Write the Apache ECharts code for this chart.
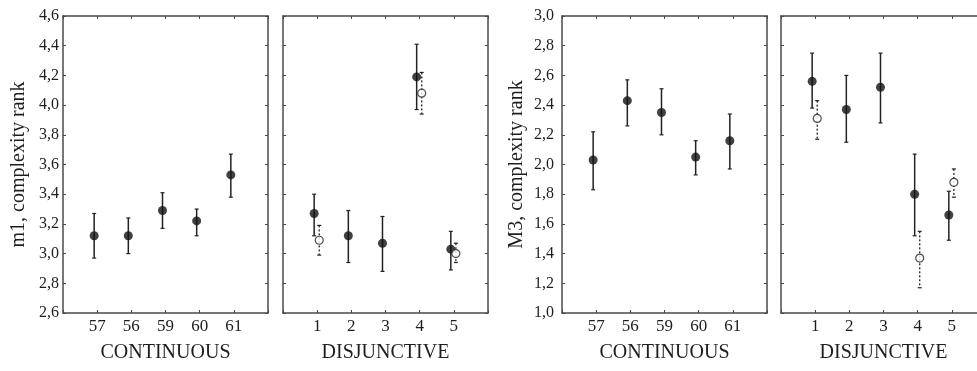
<!DOCTYPE html>
<html><head><meta charset="utf-8">
<script src="https://cdn.jsdelivr.net/npm/echarts@6/dist/echarts.min.js"></script>
<style>html,body{margin:0;padding:0;background:#fff}#c{width:977px;height:371px}</style>
</head><body><div id="c"></div>
<script>
// ---- data ----
const contCats = ['57', '56', '59', '60', '61'];
const disjCats = ['1', '2', '3', '4', '5'];
const m1YTicks = [2.6, 4.6];      // axis min / max
const M3YTicks = [1.0, 3.0];

const m1ContMean = [3.12, 3.12, 3.29, 3.22, 3.53];
const m1ContLow  = [2.97, 3.00, 3.17, 3.12, 3.38];
const m1ContHigh = [3.27, 3.24, 3.41, 3.30, 3.67];

const m1DisjMean = [3.27, 3.12, 3.07, 4.19, 3.03];
const m1DisjLow  = [3.12, 2.94, 2.88, 3.97, 2.89];
const m1DisjHigh = [3.40, 3.29, 3.25, 4.41, 3.15];

const m1DisjOpenMean = [3.09, null, null, 4.08, 3.00];
const m1DisjOpenLow  = [2.99, null, null, 3.94, 2.94];
const m1DisjOpenHigh = [3.19, null, null, 4.22, 3.07];

const M3ContMean = [2.03, 2.43, 2.35, 2.05, 2.16];
const M3ContLow  = [1.83, 2.26, 2.20, 1.93, 1.97];
const M3ContHigh = [2.22, 2.57, 2.51, 2.16, 2.34];

const M3DisjMean = [2.56, 2.37, 2.52, 1.80, 1.66];
const M3DisjLow  = [2.38, 2.15, 2.28, 1.52, 1.49];
const M3DisjHigh = [2.75, 2.60, 2.75, 2.07, 1.82];

const M3DisjOpenMean = [2.31, null, null, 1.37, 1.88];
const M3DisjOpenLow  = [2.17, null, null, 1.17, 1.78];
const M3DisjOpenHigh = [2.43, null, null, 1.55, 1.97];

// ---- chart ----
const FONT = '"Liberation Serif", "DejaVu Serif", serif';
const TXT = '#1e1e1e';
const FRAME = '#4a4a4a';
const FILL_OFF = -0.088, OPEN_OFF = 0.06;

const chart = echarts.init(document.getElementById('c'), null, {renderer: 'canvas'});

const grids = [
  {left: 63, top: 16, width: 205, height: 297, outerBoundsMode: 'none', containLabel: false},
  {left: 283, top: 16, width: 205, height: 297, outerBoundsMode: 'none', containLabel: false},
  {left: 562, top: 16, width: 205, height: 297, outerBoundsMode: 'none', containLabel: false},
  {left: 781, top: 16, width: 205, height: 297, outerBoundsMode: 'none', containLabel: false}
];

const panels = [
  {cats: contCats, name: 'CONTINUOUS', yr: m1YTicks, yName: 'm1, complexity rank', yLabels: true, lblMargin: 4, nameGap: 34,
   mean: m1ContMean, lo: m1ContLow, hi: m1ContHigh},
  {cats: disjCats, name: 'DISJUNCTIVE', yr: m1YTicks, yLabels: false,
   mean: m1DisjMean, lo: m1DisjLow, hi: m1DisjHigh,
   omean: m1DisjOpenMean, olo: m1DisjOpenLow, ohi: m1DisjOpenHigh},
  {cats: contCats, name: 'CONTINUOUS', yr: M3YTicks, yName: 'M3, complexity rank', yLabels: true, lblMargin: 8, nameGap: 35,
   mean: M3ContMean, lo: M3ContLow, hi: M3ContHigh},
  {cats: disjCats, name: 'DISJUNCTIVE', yr: M3YTicks, yLabels: false,
   mean: M3DisjMean, lo: M3DisjLow, hi: M3DisjHigh,
   omean: M3DisjOpenMean, olo: M3DisjOpenLow, ohi: M3DisjOpenHigh}
];

const xAxes = [], yAxes = [], series = [];
const lineStyle = {color: FRAME, width: 1.5};
const tickStyle = {show: true, inside: true, length: 3, lineStyle: {color: FRAME, width: 1}};

function errRender(dashed) {
  return function (params, api) {
    const x = api.value(0), lo = api.value(1), hi = api.value(2);
    const a = api.coord([x, hi]), b = api.coord([x, lo]);
    const cw = 2;
    const st = {stroke: '#222', lineWidth: dashed ? 1.3 : 1.5, lineDash: dashed ? [2, 2] : null};
    const cst = {stroke: '#222', lineWidth: 1.2};
    return {type: 'group', children: [
      {type: 'line', shape: {x1: a[0], y1: a[1], x2: b[0], y2: b[1]}, style: st},
      {type: 'line', shape: {x1: a[0] - cw, y1: a[1], x2: a[0] + cw, y2: a[1]}, style: cst},
      {type: 'line', shape: {x1: b[0] - cw, y1: b[1], x2: b[0] + cw, y2: b[1]}, style: cst}
    ]};
  };
}

panels.forEach((p, i) => {
  const cats = p.cats;
  xAxes.push({
    gridIndex: i, type: 'value', position: 'bottom', min: 0, max: 6, interval: 1,
    axisLine: {show: true, lineStyle}, axisTick: tickStyle, splitLine: {show: false},
    axisLabel: {show: true, margin: 5, fontFamily: FONT, fontSize: 17, color: TXT,
      formatter: v => (v >= 1 && v <= cats.length) ? cats[v - 1] : ''},
    name: p.name, nameLocation: 'middle', nameGap: 30,
    nameTextStyle: {fontFamily: FONT, fontSize: 20, color: TXT}
  });
  xAxes.push({
    gridIndex: i, type: 'value', position: 'top', min: 0, max: 6, interval: 1,
    axisLine: {show: true, onZero: false, lineStyle}, axisTick: tickStyle, axisLabel: {show: false}, splitLine: {show: false}
  });
  yAxes.push({
    gridIndex: i, type: 'value', position: 'left', min: p.yr[0], max: p.yr[1], interval: 0.2,
    axisLine: {show: true, onZero: false, lineStyle}, axisTick: tickStyle, splitLine: {show: false},
    axisLabel: {show: p.yLabels, margin: p.lblMargin || 4, fontFamily: FONT, fontSize: 16, color: TXT,
      formatter: v => v.toFixed(1).replace('.', ',')},
    name: p.yName || '', nameLocation: 'middle', nameGap: p.nameGap || 30, nameRotate: 90,
    nameTextStyle: {fontFamily: FONT, fontSize: 20, color: TXT}
  });
  yAxes.push({
    gridIndex: i, type: 'value', position: 'right', min: p.yr[0], max: p.yr[1], interval: 0.2,
    axisLine: {show: true, onZero: false, lineStyle}, axisTick: tickStyle, axisLabel: {show: false}, splitLine: {show: false}
  });

  const xi = 2 * i, yi = 2 * i;
  const errData = [], ptData = [];
  p.mean.forEach((m, k) => {
    const x = k + 1 + FILL_OFF;
    errData.push([x, p.lo[k], p.hi[k]]);
    ptData.push([x, m]);
  });
  series.push({
    type: 'custom', xAxisIndex: xi, yAxisIndex: yi, z: 2, silent: true,
    renderItem: errRender(false), data: errData, encode: {x: 0, y: [1, 2]}
  });
  series.push({
    type: 'scatter', xAxisIndex: xi, yAxisIndex: yi, z: 5, silent: true,
    symbol: 'circle', symbolSize: 9, itemStyle: {color: '#111'}, data: ptData
  });
  if (p.omean) {
    const oErr = [], oPt = [];
    p.omean.forEach((m, k) => {
      if (m == null) return;
      const x = k + 1 + OPEN_OFF;
      oErr.push([x, p.olo[k], p.ohi[k]]);
      oPt.push([x, m]);
    });
    series.push({
      type: 'custom', xAxisIndex: xi, yAxisIndex: yi, z: 3, silent: true,
      renderItem: errRender(true), data: oErr, encode: {x: 0, y: [1, 2]}
    });
    series.push({
      type: 'scatter', xAxisIndex: xi, yAxisIndex: yi, z: 6, silent: true,
      symbol: 'circle', symbolSize: 8, itemStyle: {color: '#fff', borderColor: '#222', borderWidth: 1.2}, data: oPt
    });
  }
});

chart.setOption({
  animation: false,
  backgroundColor: '#fff',
  grid: grids,
  xAxis: xAxes,
  yAxis: yAxes,
  series: series
});
</script>
</body></html>
